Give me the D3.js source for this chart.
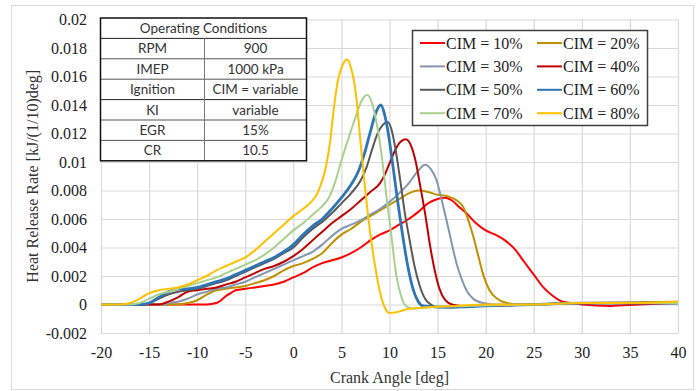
<!DOCTYPE html>
<html>
<head>
<meta charset="utf-8">
<script src="https://cdn.jsdelivr.net/npm/d3@7/dist/d3.min.js"></script>
<style>
  body { margin: 0; background: #fff; }
  svg { display: block; }
</style>
</head>
<body>
<div id="container"></div>
<script>
// tick labels
const xTicks = [-20, -15, -10, -5, 0, 5, 10, 15, 20, 25, 30, 35, 40];
const yTicks = [-0.002, 0, 0.002, 0.004, 0.006, 0.008, 0.01, 0.012, 0.014, 0.016, 0.018, 0.02];

// series: [crank angle, heat release rate]
const cim10 = [[-20,0],[-9,0],[-8,0.0001],[-7.5,0.0003],[-7,0.0006],[-6.5,0.0008],[-6,0.001],[-5,0.0011],[-4,0.0012],[-3,0.0013],[-2,0.0014],[-1,0.0016],[0,0.0019],[1,0.0022],[2,0.0026],[3,0.0029],[4,0.0031],[5,0.0033],[6,0.0036],[7,0.004],[8,0.0045],[9,0.0049],[10,0.0052],[11,0.0056],[12,0.006],[13,0.0065],[14,0.0071],[15,0.0074],[15.8,0.0075],[16.5,0.0073],[17.3,0.0068],[18,0.0064],[19,0.0057],[20,0.0052],[21,0.0049],[22,0.0045],[23,0.0039],[24,0.003],[25,0.0021],[26,0.0012],[27,0.0006],[28,0.0002],[29,0.0001],[30,0],[33,-0.0001],[36,0],[40,0.0001]];
const cim20 = [[-20,0],[-12,0],[-11,0.0001],[-10,0.0003],[-9,0.0007],[-8,0.001],[-7,0.0011],[-6,0.0012],[-5,0.0013],[-4,0.0015],[-3,0.0017],[-2,0.002],[-1,0.0024],[0,0.0027],[1,0.0029],[2,0.0032],[3,0.0036],[4,0.0043],[5,0.0049],[6,0.0053],[7,0.0058],[8,0.0062],[9,0.0066],[10,0.007],[11,0.0074],[12,0.0078],[13,0.008],[14,0.0079],[15,0.0077],[16,0.0076],[17,0.0073],[17.7,0.0068],[18.2,0.0059],[18.7,0.0048],[19.2,0.0035],[19.7,0.0022],[20.4,0.001],[21.2,0.0004],[22.2,0.0001],[23.5,0],[30,0.0001],[40,0.0002]];
const cim30 = [[-20,0],[-13.5,0],[-13,0.0001],[-12,0.0002],[-11,0.0004],[-10,0.0007],[-9,0.0009],[-8,0.0011],[-7,0.0012],[-6,0.0014],[-5,0.0016],[-4,0.0019],[-3,0.0022],[-2,0.0025],[-1,0.0028],[0,0.0031],[1,0.0034],[2,0.0037],[3,0.0042],[4,0.0048],[5,0.0053],[6,0.0056],[7,0.0059],[8,0.0063],[9,0.0067],[10,0.0072],[11,0.0078],[12,0.0085],[13,0.0094],[13.7,0.0098],[14.3,0.0095],[14.9,0.0087],[15.4,0.0074],[15.9,0.006],[16.5,0.0042],[17,0.0028],[17.5,0.0018],[18,0.001],[18.7,0.0004],[19.7,0.0001],[21,0],[25,0],[30,0.0001],[40,0.0001]];
const cim40 = [[-20,0],[-14,0],[-13,0.0002],[-12,0.0005],[-11,0.0009],[-10,0.001],[-9,0.0011],[-8,0.0012],[-7,0.0014],[-6,0.0016],[-5,0.0019],[-4,0.0022],[-3,0.0025],[-2,0.0027],[-1,0.003],[0,0.0034],[1,0.0039],[2,0.0045],[3,0.0051],[4,0.0057],[5,0.0062],[6,0.0067],[7,0.0073],[8,0.0079],[9,0.0085],[9.5,0.0091],[10,0.0099],[10.5,0.0107],[11,0.0113],[11.7,0.0116],[12.2,0.0112],[12.7,0.0101],[13.2,0.0083],[13.7,0.0064],[14.2,0.0042],[14.7,0.0024],[15.2,0.0011],[15.8,0.0003],[16.5,0],[17.5,-0.0001],[20,-0.0001],[25,0],[30,0.0001],[40,0.0001]];
const cim50 = [[-20,0],[-15.5,0],[-15,0.0001],[-14,0.0004],[-13,0.0007],[-12,0.0009],[-11,0.001],[-10,0.0011],[-9,0.0013],[-8,0.0015],[-7,0.0017],[-6,0.002],[-5,0.0023],[-4,0.0026],[-3,0.0029],[-2,0.0032],[-1,0.0036],[0,0.004],[1,0.0047],[2,0.0053],[3,0.0058],[4,0.0064],[5,0.0071],[6,0.0078],[7,0.0087],[7.6,0.0096],[8.2,0.0109],[8.7,0.0119],[9.3,0.0126],[9.8,0.0128],[10.2,0.0123],[10.6,0.011],[11.1,0.0088],[11.6,0.0064],[12.1,0.0045],[12.6,0.0027],[13.1,0.0014],[13.7,0.0004],[14.3,0],[15,-0.0002],[18,-0.0001],[25,0],[30,0.0001],[40,0.0001]];
const cim60 = [[-20,0],[-16,0],[-15,0.0001],[-14,0.0005],[-13,0.0009],[-12,0.0011],[-11,0.0011],[-10,0.0012],[-9,0.0014],[-8,0.0016],[-7,0.0018],[-6,0.0021],[-5,0.0024],[-4,0.0027],[-3,0.003],[-2,0.0033],[-1,0.0037],[0,0.0042],[1,0.0049],[2,0.0055],[3,0.006],[4,0.0067],[5,0.0075],[6,0.0084],[6.8,0.0094],[7.4,0.0106],[8,0.0121],[8.6,0.0135],[9.1,0.014],[9.5,0.0133],[9.9,0.0119],[10.4,0.0095],[10.9,0.007],[11.4,0.0047],[11.9,0.0027],[12.4,0.0012],[13,0.0002],[13.5,-0.0001],[16,-0.0002],[20,-0.0001],[25,0],[30,0.0001],[40,0.0001]];
const cim70 = [[-20,0],[-17,0],[-16,0.0001],[-15,0.0004],[-14,0.0007],[-13,0.0009],[-12,0.0011],[-11,0.0013],[-10,0.0015],[-9,0.0017],[-8,0.0019],[-7,0.0022],[-6,0.0025],[-5,0.0028],[-4,0.0031],[-3,0.0035],[-2,0.004],[-1,0.0046],[0,0.0052],[1,0.0057],[2,0.0063],[3,0.0069],[3.7,0.0075],[4.3,0.0085],[5,0.0101],[5.8,0.0118],[6.6,0.0134],[7.1,0.0143],[7.7,0.0147],[8.2,0.0141],[8.7,0.0126],[9.2,0.0104],[9.7,0.0075],[10.2,0.0048],[10.7,0.0021],[11.2,0.0006],[11.7,-0.0001],[12.5,-0.0003],[14,-0.0002],[18,-0.0001],[25,0],[30,0.0001],[40,0.0001]];
const cim80 = [[-20,0],[-18,0],[-17,0.0001],[-16,0.0004],[-15,0.0008],[-14,0.001],[-13,0.0011],[-12,0.0012],[-11,0.0014],[-10,0.0017],[-9,0.002],[-8,0.0024],[-7,0.0027],[-6,0.003],[-5,0.0033],[-4,0.0038],[-3,0.0044],[-2,0.005],[-1,0.0056],[0,0.0062],[1,0.0067],[2,0.0073],[2.5,0.0078],[3,0.0087],[3.4,0.0097],[3.8,0.0113],[4.2,0.0137],[4.6,0.0156],[5,0.0166],[5.6,0.0172],[6,0.0166],[6.5,0.0148],[7,0.0113],[7.5,0.0079],[8,0.005],[8.5,0.0027],[9,0.0009],[9.5,-0.0002],[10,-0.0006],[11,-0.0005],[12,-0.0003],[14,-0.0002],[17,-0.0001],[20,0],[25,0],[30,0.0001],[35,0.0001],[40,0.0002]];

const seriesNames = ["CIM = 10%", "CIM = 20%", "CIM = 30%", "CIM = 40%", "CIM = 50%", "CIM = 60%", "CIM = 70%", "CIM = 80%"];
const seriesData = [cim10, cim20, cim30, cim40, cim50, cim60, cim70, cim80];
const seriesColors = ["#ff0000", "#bf9000", "#8497b0", "#c00000", "#595959", "#2e75b6", "#a9d18e", "#ffc000"];
const seriesWidths = [2, 2, 2, 2, 2, 2.8, 2, 2];

// operating conditions table
const tableTitle = "Operating Conditions";
const tableKeys = ["RPM", "IMEP", "Ignition", "KI", "EGR", "CR"];
const tableValues = ["900", "1000 kPa", "CIM = variable", "variable", "15%", "10.5"];

const WIDTH = 698;
const HEIGHT = 391;
const LEFT = 101, RIGHT = 678, TOP = 19.5, BOTTOM = 333;
const SERIF = "'Liberation Serif', 'Times New Roman', serif";

const svg = d3.select("#container")
    .append("svg")
    .attr("width", WIDTH)
    .attr("height", HEIGHT);

svg.append("rect")
    .attr("width", WIDTH).attr("height", HEIGHT)
    .attr("fill", "#fff");

// outer chart frame
svg.append("rect")
    .attr("x", 11.5).attr("y", 5.5)
    .attr("width", 682).attr("height", 384)
    .attr("fill", "none")
    .attr("stroke", "#d9d9d9");

const x = d3.scaleLinear().domain([-20, 40]).range([LEFT, RIGHT]);
const y = d3.scaleLinear().domain([-0.002, 0.02]).range([BOTTOM, TOP]);

const xAxis = svg.append("g")
    .attr("transform", "translate(0," + BOTTOM + ")")
    .call(d3.axisBottom(x)
        .tickValues(xTicks)
        .tickSizeInner(-(BOTTOM - TOP))
        .tickSizeOuter(0)
        .tickPadding(14)
        .tickFormat(d => d));

const yAxis = svg.append("g")
    .attr("transform", "translate(" + LEFT + ",0)")
    .call(d3.axisLeft(y)
        .tickValues(yTicks)
        .tickSizeInner(-(RIGHT - LEFT))
        .tickSizeOuter(0)
        .tickPadding(14)
        .tickFormat(d => String(+d.toFixed(3))));

[xAxis, yAxis].forEach(g => {
    g.attr("font-family", SERIF).attr("font-size", 16);
    g.select(".domain").remove();
    g.selectAll(".tick line").attr("stroke", "#d9d9d9").attr("stroke-width", 1.2);
    g.selectAll(".tick text").attr("fill", "#222");
});

// axis titles
svg.append("text")
    .attr("x", (LEFT + RIGHT) / 2)
    .attr("y", 383)
    .attr("text-anchor", "middle")
    .attr("fill", "#333")
    .style("font-family", SERIF)
    .style("font-size", "16px")
    .text("Crank Angle [deg]");

svg.append("text")
    .attr("transform", "translate(38," + ((TOP + BOTTOM) / 2) + ") rotate(-90)")
    .attr("text-anchor", "middle")
    .attr("fill", "#333")
    .style("font-family", SERIF)
    .style("font-size", "16px")
    .text("Heat Release Rate [kJ/(1/10)deg]");

// curves
const line = d3.line()
    .x(d => x(d[0]))
    .y(d => y(d[1]))
    .curve(d3.curveMonotoneX);

svg.append("g")
    .selectAll("path")
    .data(seriesData)
    .enter()
    .append("path")
    .attr("d", line)
    .attr("fill", "none")
    .attr("stroke", (d, i) => seriesColors[i])
    .attr("stroke-width", (d, i) => seriesWidths[i])
    .attr("stroke-linejoin", "round");

// operating conditions table
const TX = 100.5, TY = 18, TW = 206, ROW = 20.4, COL = 104;
const table = svg.append("g");
table.append("rect")
    .attr("x", TX).attr("y", TY)
    .attr("width", TW).attr("height", ROW * 7)
    .attr("fill", "#fff");
table.selectAll("line.row")
    .data(d3.range(1, 7))
    .enter()
    .append("line")
    .attr("x1", TX).attr("x2", TX + TW)
    .attr("y1", i => TY + i * ROW).attr("y2", i => TY + i * ROW)
    .attr("stroke", i => i === 1 || i === 4 ? "#222" : "#555")
    .attr("stroke-width", 1);
table.append("line")
    .attr("x1", TX + COL).attr("x2", TX + COL)
    .attr("y1", TY + ROW).attr("y2", TY + ROW * 7)
    .attr("stroke", "#777");
table.append("rect")
    .attr("x", TX).attr("y", TY)
    .attr("width", TW).attr("height", ROW * 7)
    .attr("fill", "none")
    .attr("stroke", "#111")
    .attr("stroke-width", 1.5);

const tableFont = "Lato, 'Open Sans', sans-serif";
table.append("text")
    .attr("x", TX + TW / 2).attr("y", TY + ROW / 2)
    .attr("dy", "0.35em")
    .attr("text-anchor", "middle")
    .attr("fill", "#333")
    .style("font-family", tableFont).style("font-size", "13.5px")
    .text(tableTitle);
table.selectAll("text.key")
    .data(tableKeys)
    .enter()
    .append("text")
    .attr("x", TX + COL / 2)
    .attr("y", (d, i) => TY + (i + 1.5) * ROW)
    .attr("dy", "0.35em")
    .attr("text-anchor", "middle")
    .attr("fill", "#333")
    .style("font-family", tableFont).style("font-size", "13.5px")
    .text(d => d);
table.selectAll("text.val")
    .data(tableValues)
    .enter()
    .append("text")
    .attr("x", TX + COL + (TW - COL) / 2)
    .attr("y", (d, i) => TY + (i + 1.5) * ROW)
    .attr("dy", "0.35em")
    .attr("text-anchor", "middle")
    .attr("fill", "#333")
    .style("font-family", tableFont).style("font-size", "13.5px")
    .text(d => d);

// legend
const legend = svg.append("g");
legend.append("rect")
    .attr("x", 412.5).attr("y", 30.5)
    .attr("width", 235).attr("height", 95)
    .attr("fill", "#fff")
    .attr("stroke", "#404040")
    .attr("stroke-width", 1.5);

const items = legend.selectAll("g.item")
    .data(seriesNames)
    .enter()
    .append("g")
    .attr("transform", (d, i) => "translate(" + (i % 2 === 0 ? 420 : 537) + "," + (43 + Math.floor(i / 2) * 23.4) + ")");
items.append("line")
    .attr("x1", 0).attr("x2", 25)
    .attr("stroke", (d, i) => seriesColors[i])
    .attr("stroke-width", 2);
items.append("text")
    .attr("x", 26)
    .attr("dy", "0.35em")
    .attr("fill", "#222")
    .style("font-family", SERIF)
    .style("font-size", "16px")
    .text(d => d);
</script>
</body>
</html>
